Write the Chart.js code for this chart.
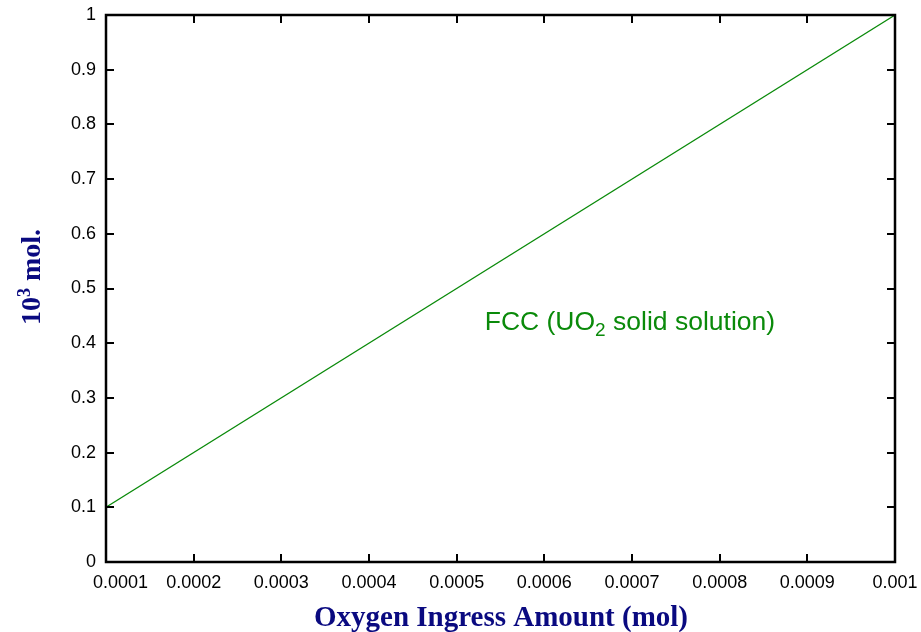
<!DOCTYPE html>
<html>
<head>
<meta charset="utf-8">
<script src="https://cdn.jsdelivr.net/npm/chart.js@4/dist/chart.umd.min.js"></script>
<style>
  html, body { margin: 0; padding: 0; background: #ffffff; }
  #wrap { width: 921px; height: 632px; position: relative; }
</style>
</head>
<body>
<div id="wrap"><canvas id="c" width="921" height="632"></canvas></div>
<script>
// Oxygen ingress amount (mol) vs. amount of FCC phase (10^3 mol)
const oxygenIngress = [0.0001, 0.001];
const fccAmount = [0.1, 1.0];
const xTickValues = [0.0001, 0.0002, 0.0003, 0.0004, 0.0005, 0.0006, 0.0007, 0.0008, 0.0009, 0.001];
const xTickLabels = ['0.0001', '0.0002', '0.0003', '0.0004', '0.0005', '0.0006', '0.0007', '0.0008', '0.0009', '0.001'];
const yTickValues = [0, 0.1, 0.2, 0.3, 0.4, 0.5, 0.6, 0.7, 0.8, 0.9, 1];
const yTickLabels = ['0', '0.1', '0.2', '0.3', '0.4', '0.5', '0.6', '0.7', '0.8', '0.9', '1'];
const seriesLabel = 'FCC (UO2 solid solution)';
const labelAnchor = [0.000532, 0.44];

const GREEN = '#0a8a0a';
const NAVY = '#0a0a80';
const SANS = '"Liberation Sans", Arial, sans-serif';
const SERIF = '"Liberation Serif", "Times New Roman", serif';
const TITLE_FONT = 'bold 29px ' + SERIF;

// Frame with inward tick marks on all four sides, x tick labels, axis titles and series label
const framePlugin = {
  id: 'frame',
  afterDatasetsDraw(chart) {
    const { ctx, chartArea: a, scales } = chart;
    const xs = scales.x, ys = scales.y;
    const tl = 8;
    ctx.save();
    ctx.strokeStyle = '#000';
    ctx.lineWidth = 2;
    ctx.beginPath();
    xTickValues.forEach(v => {
      const px = Math.round(xs.getPixelForValue(v));
      ctx.moveTo(px, a.bottom); ctx.lineTo(px, a.bottom - tl);
      ctx.moveTo(px, a.top); ctx.lineTo(px, a.top + tl);
    });
    yTickValues.forEach(v => {
      const py = Math.round(ys.getPixelForValue(v));
      ctx.moveTo(a.left, py); ctx.lineTo(a.left + tl, py);
      ctx.moveTo(a.right, py); ctx.lineTo(a.right - tl, py);
    });
    ctx.stroke();
    ctx.lineWidth = 2.5;
    ctx.strokeRect(a.left, a.top, a.right - a.left, a.bottom - a.top);

    // x tick labels; the first one is kept from running past the left margin
    ctx.fillStyle = '#000';
    ctx.font = '18px ' + SANS;
    ctx.textBaseline = 'alphabetic';
    xTickValues.forEach((v, i) => {
      const px = xs.getPixelForValue(v);
      const w = ctx.measureText(xTickLabels[i]).width;
      const left = Math.max(px - w / 2, a.left - 13);
      ctx.textAlign = 'left';
      ctx.fillText(xTickLabels[i], left, a.bottom + 26);
    });

    // series label with subscript
    ctx.fillStyle = GREEN;
    ctx.textBaseline = 'middle';
    ctx.textAlign = 'left';
    let lx = xs.getPixelForValue(labelAnchor[0]);
    const ly = ys.getPixelForValue(labelAnchor[1]);
    const big = '26.5px ' + SANS;
    const small = '19px ' + SANS;
    const parts = [['FCC (UO', big, 0], ['2', small, 8], [' solid solution)', big, 0]];
    parts.forEach(([t, f, dy]) => {
      ctx.font = f;
      ctx.fillText(t, lx, ly + 1 + dy);
      lx += ctx.measureText(t).width;
    });

    // x-axis title
    ctx.fillStyle = NAVY;
    ctx.font = TITLE_FONT;
    ctx.textAlign = 'center';
    ctx.textBaseline = 'alphabetic';
    ctx.fillText('Oxygen Ingress Amount (mol)', 501, 626);

    // y-axis title, rotated, with superscript exponent
    ctx.translate(40, 277);
    ctx.rotate(-Math.PI / 2);
    const yParts = [['10', 'bold 28px ' + SERIF, 0], ['3', 'bold 18px ' + SERIF, -10], [' mol.', 'bold 28px ' + SERIF, 0]];
    let total = 0;
    yParts.forEach(([t, f]) => { ctx.font = f; total += ctx.measureText(t).width; });
    let tx = -total / 2;
    ctx.textAlign = 'left';
    yParts.forEach(([t, f, dy]) => {
      ctx.font = f;
      ctx.fillText(t, tx, dy);
      tx += ctx.measureText(t).width;
    });
    ctx.restore();
  }
};

function noScalePadding(s) {
  s.paddingLeft = 0; s.paddingRight = 0; s.paddingTop = 0; s.paddingBottom = 0;
}

new Chart(document.getElementById('c'), {
  type: 'line',
  data: {
    datasets: [{
      label: seriesLabel,
      data: oxygenIngress.map((x, i) => ({ x, y: fccAmount[i] })),
      borderColor: GREEN,
      borderWidth: 1.2,
      pointRadius: 0,
      fill: false,
      tension: 0
    }]
  },
  options: {
    responsive: false,
    animation: false,
    devicePixelRatio: 1,
    layout: { padding: { top: 15, right: 26, left: 0, bottom: 0 } },
    plugins: { legend: { display: false }, tooltip: { enabled: false } },
    scales: {
      x: {
        type: 'linear',
        min: 0.0001,
        max: 0.001,
        afterBuildTicks: s => { s.ticks = xTickValues.map(v => ({ value: v })); },
        afterFit: s => { s.height = 70; noScalePadding(s); },
        grid: { display: false, drawTicks: false },
        border: { display: false },
        ticks: { display: false }
      },
      y: {
        type: 'linear',
        min: 0,
        max: 1,
        afterBuildTicks: s => { s.ticks = yTickValues.map(v => ({ value: v })); },
        afterFit: s => { s.width = 106; noScalePadding(s); },
        grid: { display: false, drawTicks: false },
        border: { display: false },
        ticks: {
          autoSkip: false,
          padding: 10,
          color: '#000',
          font: { family: SANS, size: 18 },
          callback: (v, i) => yTickLabels[i]
        }
      }
    }
  },
  plugins: [framePlugin]
});
</script>
</body>
</html>
